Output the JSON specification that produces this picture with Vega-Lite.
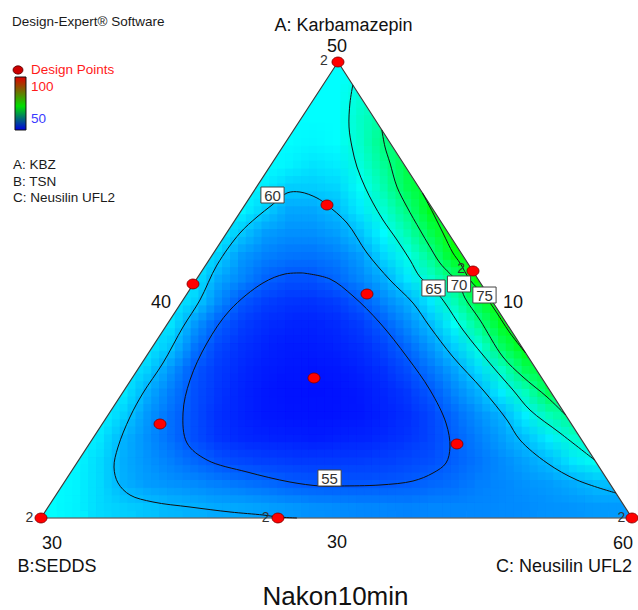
{
"$schema": "https://vega.github.io/schema/vega-lite/v6.json",
"width": 638, "height": 610,
"autosize": {"type": "none"},
"padding": 0,
"background": "white",
"config": {"view": {"stroke": null}, "font": "Liberation Sans"},
"datasets": {
"cells": [
{"u":0.02,"v":0.025,"z":64},{"u":0.06,"v":0.025,"z":63.4},{"u":0.1,"v":0.025,"z":62},{"u":0.14,"v":0.025,"z":61.4},{"u":0.18,"v":0.025,"z":60.8},{"u":0.22,"v":0.025,"z":60.2},{"u":0.26,"v":0.025,"z":59.8},{"u":0.3,"v":0.025,"z":59.4},{"u":0.34,"v":0.025,"z":59.2},{"u":0.38,"v":0.025,"z":58.9},{"u":0.42,"v":0.025,"z":58.4},{"u":0.46,"v":0.025,"z":58},{"u":0.5,"v":0.025,"z":57.8},{"u":0.54,"v":0.025,"z":57.6},{"u":0.58,"v":0.025,"z":57.4},{"u":0.62,"v":0.025,"z":57.3},{"u":0.66,"v":0.025,"z":57.4},{"u":0.7,"v":0.025,"z":57.5},{"u":0.74,"v":0.025,"z":57.6},{"u":0.78,"v":0.025,"z":57.7},{"u":0.82,"v":0.025,"z":57.8},{"u":0.86,"v":0.025,"z":58.1},{"u":0.9,"v":0.025,"z":58.3},{"u":0.94,"v":0.025,"z":58.6},{"u":0.98,"v":0.025,"z":58.6},
{"u":0.02,"v":0.075,"z":64},{"u":0.06,"v":0.075,"z":63.5},{"u":0.1,"v":0.075,"z":62},{"u":0.14,"v":0.075,"z":59.8},{"u":0.18,"v":0.075,"z":58.7},{"u":0.22,"v":0.075,"z":58.2},{"u":0.26,"v":0.075,"z":57.7},{"u":0.3,"v":0.075,"z":57.1},{"u":0.34,"v":0.075,"z":56.5},{"u":0.38,"v":0.075,"z":56},{"u":0.42,"v":0.075,"z":55.3},{"u":0.46,"v":0.075,"z":54.9},{"u":0.5,"v":0.075,"z":54.8},{"u":0.54,"v":0.075,"z":54.8},{"u":0.58,"v":0.075,"z":54.9},{"u":0.62,"v":0.075,"z":55.2},{"u":0.66,"v":0.075,"z":55.7},{"u":0.7,"v":0.075,"z":56.2},{"u":0.74,"v":0.075,"z":57},{"u":0.78,"v":0.075,"z":57.6},{"u":0.82,"v":0.075,"z":58.2},{"u":0.86,"v":0.075,"z":58.7},{"u":0.9,"v":0.075,"z":59.5},{"u":0.94,"v":0.075,"z":60.5},{"u":0.98,"v":0.075,"z":60.5},
{"u":0.06,"v":0.125,"z":63.8},{"u":0.1,"v":0.125,"z":62},{"u":0.14,"v":0.125,"z":59.6},{"u":0.18,"v":0.125,"z":58.3},{"u":0.22,"v":0.125,"z":57.1},{"u":0.26,"v":0.125,"z":55.8},{"u":0.3,"v":0.125,"z":54.6},{"u":0.34,"v":0.125,"z":54},{"u":0.38,"v":0.125,"z":53.6},{"u":0.42,"v":0.125,"z":53.4},{"u":0.46,"v":0.125,"z":53.3},{"u":0.5,"v":0.125,"z":53.3},{"u":0.54,"v":0.125,"z":53.4},{"u":0.58,"v":0.125,"z":53.6},{"u":0.62,"v":0.125,"z":54},{"u":0.66,"v":0.125,"z":54.5},{"u":0.7,"v":0.125,"z":55.4},{"u":0.74,"v":0.125,"z":56.6},{"u":0.78,"v":0.125,"z":57.8},{"u":0.82,"v":0.125,"z":59},{"u":0.86,"v":0.125,"z":60.5},{"u":0.9,"v":0.125,"z":62.8},{"u":0.94,"v":0.125,"z":64.5},
{"u":0.06,"v":0.175,"z":63.8},{"u":0.1,"v":0.175,"z":62.8},{"u":0.14,"v":0.175,"z":59.9},{"u":0.18,"v":0.175,"z":58},{"u":0.22,"v":0.175,"z":56.2},{"u":0.26,"v":0.175,"z":54.4},{"u":0.3,"v":0.175,"z":53},{"u":0.34,"v":0.175,"z":52.3},{"u":0.38,"v":0.175,"z":52},{"u":0.42,"v":0.175,"z":51.8},{"u":0.46,"v":0.175,"z":51.7},{"u":0.5,"v":0.175,"z":51.8},{"u":0.54,"v":0.175,"z":52},{"u":0.58,"v":0.175,"z":52.4},{"u":0.62,"v":0.175,"z":53},{"u":0.66,"v":0.175,"z":54},{"u":0.7,"v":0.175,"z":55.4},{"u":0.74,"v":0.175,"z":57.1},{"u":0.78,"v":0.175,"z":58.8},{"u":0.82,"v":0.175,"z":60.7},{"u":0.86,"v":0.175,"z":63.2},{"u":0.9,"v":0.175,"z":66.1},{"u":0.94,"v":0.175,"z":67},
{"u":0.1,"v":0.225,"z":63.6},{"u":0.14,"v":0.225,"z":61.6},{"u":0.18,"v":0.225,"z":58.4},{"u":0.22,"v":0.225,"z":56.2},{"u":0.26,"v":0.225,"z":54.3},{"u":0.3,"v":0.225,"z":52.8},{"u":0.34,"v":0.225,"z":51.9},{"u":0.38,"v":0.225,"z":51.4},{"u":0.42,"v":0.225,"z":51.2},{"u":0.46,"v":0.225,"z":51.1},{"u":0.5,"v":0.225,"z":51.2},{"u":0.54,"v":0.225,"z":51.4},{"u":0.58,"v":0.225,"z":51.9},{"u":0.62,"v":0.225,"z":52.7},{"u":0.66,"v":0.225,"z":54},{"u":0.7,"v":0.225,"z":56},{"u":0.74,"v":0.225,"z":58},{"u":0.78,"v":0.225,"z":59.9},{"u":0.82,"v":0.225,"z":63.3},{"u":0.86,"v":0.225,"z":67.2},{"u":0.9,"v":0.225,"z":69.5},
{"u":0.14,"v":0.275,"z":63},{"u":0.18,"v":0.275,"z":59.6},{"u":0.22,"v":0.275,"z":56.9},{"u":0.26,"v":0.275,"z":54.5},{"u":0.3,"v":0.275,"z":53},{"u":0.34,"v":0.275,"z":52},{"u":0.38,"v":0.275,"z":51.4},{"u":0.42,"v":0.275,"z":51.1},{"u":0.46,"v":0.275,"z":51},{"u":0.5,"v":0.275,"z":51.1},{"u":0.54,"v":0.275,"z":51.5},{"u":0.58,"v":0.275,"z":52.2},{"u":0.62,"v":0.275,"z":53.2},{"u":0.66,"v":0.275,"z":55},{"u":0.7,"v":0.275,"z":57.4},{"u":0.74,"v":0.275,"z":59.8},{"u":0.78,"v":0.275,"z":63.1},{"u":0.82,"v":0.275,"z":67},{"u":0.86,"v":0.275,"z":72},
{"u":0.14,"v":0.325,"z":63.3},{"u":0.18,"v":0.325,"z":61.6},{"u":0.22,"v":0.325,"z":58.3},{"u":0.26,"v":0.325,"z":55},{"u":0.3,"v":0.325,"z":53.3},{"u":0.34,"v":0.325,"z":52.3},{"u":0.38,"v":0.325,"z":51.6},{"u":0.42,"v":0.325,"z":51.3},{"u":0.46,"v":0.325,"z":51.2},{"u":0.5,"v":0.325,"z":51.4},{"u":0.54,"v":0.325,"z":51.9},{"u":0.58,"v":0.325,"z":52.8},{"u":0.62,"v":0.325,"z":54.3},{"u":0.66,"v":0.325,"z":56.6},{"u":0.7,"v":0.325,"z":59},{"u":0.74,"v":0.325,"z":62.2},{"u":0.78,"v":0.325,"z":66.6},{"u":0.82,"v":0.325,"z":71.7},{"u":0.86,"v":0.325,"z":73.5},
{"u":0.18,"v":0.375,"z":63.1},{"u":0.22,"v":0.375,"z":61},{"u":0.26,"v":0.375,"z":56.6},{"u":0.3,"v":0.375,"z":54},{"u":0.34,"v":0.375,"z":52.8},{"u":0.38,"v":0.375,"z":52},{"u":0.42,"v":0.375,"z":51.6},{"u":0.46,"v":0.375,"z":51.6},{"u":0.5,"v":0.375,"z":51.9},{"u":0.54,"v":0.375,"z":52.6},{"u":0.58,"v":0.375,"z":53.8},{"u":0.62,"v":0.375,"z":55.9},{"u":0.66,"v":0.375,"z":58.5},{"u":0.7,"v":0.375,"z":61.5},{"u":0.74,"v":0.375,"z":65.4},{"u":0.78,"v":0.375,"z":71.2},{"u":0.82,"v":0.375,"z":75.2},
{"u":0.22,"v":0.425,"z":62.6},{"u":0.26,"v":0.425,"z":58.6},{"u":0.3,"v":0.425,"z":55.3},{"u":0.34,"v":0.425,"z":53.5},{"u":0.38,"v":0.425,"z":52.6},{"u":0.42,"v":0.425,"z":52.1},{"u":0.46,"v":0.425,"z":52},{"u":0.5,"v":0.425,"z":52.4},{"u":0.54,"v":0.425,"z":53.4},{"u":0.58,"v":0.425,"z":55.3},{"u":0.62,"v":0.425,"z":57.8},{"u":0.66,"v":0.425,"z":60.5},{"u":0.7,"v":0.425,"z":64.3},{"u":0.74,"v":0.425,"z":69.1},{"u":0.78,"v":0.425,"z":74.5},{"u":0.82,"v":0.425,"z":76.5},
{"u":0.22,"v":0.475,"z":63.3},{"u":0.26,"v":0.475,"z":61.6},{"u":0.3,"v":0.475,"z":57.8},{"u":0.34,"v":0.475,"z":54.9},{"u":0.38,"v":0.475,"z":53.6},{"u":0.42,"v":0.475,"z":53},{"u":0.46,"v":0.475,"z":52.9},{"u":0.5,"v":0.475,"z":53.5},{"u":0.54,"v":0.475,"z":55.1},{"u":0.58,"v":0.475,"z":57.4},{"u":0.62,"v":0.475,"z":59.6},{"u":0.66,"v":0.475,"z":63},{"u":0.7,"v":0.475,"z":67.3},{"u":0.74,"v":0.475,"z":72.6},{"u":0.78,"v":0.475,"z":77},
{"u":0.26,"v":0.525,"z":63},{"u":0.3,"v":0.525,"z":59.4},{"u":0.34,"v":0.525,"z":57.5},{"u":0.38,"v":0.525,"z":55.6},{"u":0.42,"v":0.525,"z":54.6},{"u":0.46,"v":0.525,"z":54.6},{"u":0.5,"v":0.525,"z":55.8},{"u":0.54,"v":0.525,"z":57.6},{"u":0.58,"v":0.525,"z":59.6},{"u":0.62,"v":0.525,"z":62.8},{"u":0.66,"v":0.525,"z":66.4},{"u":0.7,"v":0.525,"z":70.1},{"u":0.74,"v":0.525,"z":76.5},
{"u":0.26,"v":0.575,"z":63.4},{"u":0.3,"v":0.575,"z":61.6},{"u":0.34,"v":0.575,"z":58.5},{"u":0.38,"v":0.575,"z":57.2},{"u":0.42,"v":0.575,"z":56.5},{"u":0.46,"v":0.575,"z":56.4},{"u":0.5,"v":0.575,"z":57},{"u":0.54,"v":0.575,"z":58.7},{"u":0.58,"v":0.575,"z":61.9},{"u":0.62,"v":0.575,"z":65},{"u":0.66,"v":0.575,"z":69.2},{"u":0.7,"v":0.575,"z":74.9},{"u":0.74,"v":0.575,"z":77.5},
{"u":0.3,"v":0.625,"z":63.5},{"u":0.34,"v":0.625,"z":61},{"u":0.38,"v":0.625,"z":58.7},{"u":0.42,"v":0.625,"z":58},{"u":0.46,"v":0.625,"z":58},{"u":0.5,"v":0.625,"z":58.8},{"u":0.54,"v":0.625,"z":60.8},{"u":0.58,"v":0.625,"z":63.9},{"u":0.62,"v":0.625,"z":67.6},{"u":0.66,"v":0.625,"z":72.2},{"u":0.7,"v":0.625,"z":77},
{"u":0.34,"v":0.675,"z":63.6},{"u":0.38,"v":0.675,"z":61.4},{"u":0.42,"v":0.675,"z":59.3},{"u":0.46,"v":0.675,"z":59.3},{"u":0.5,"v":0.675,"z":60.3},{"u":0.54,"v":0.675,"z":63},{"u":0.58,"v":0.675,"z":66},{"u":0.62,"v":0.675,"z":69.8},{"u":0.66,"v":0.675,"z":74.8},
{"u":0.34,"v":0.725,"z":64},{"u":0.38,"v":0.725,"z":63.2},{"u":0.42,"v":0.725,"z":61.4},{"u":0.46,"v":0.725,"z":61.3},{"u":0.5,"v":0.725,"z":61.8},{"u":0.54,"v":0.725,"z":64.2},{"u":0.58,"v":0.725,"z":67.7},{"u":0.62,"v":0.725,"z":72},{"u":0.66,"v":0.725,"z":74.5},
{"u":0.38,"v":0.775,"z":64},{"u":0.42,"v":0.775,"z":63.5},{"u":0.46,"v":0.775,"z":62.6},{"u":0.5,"v":0.775,"z":63.2},{"u":0.54,"v":0.775,"z":65.5},{"u":0.58,"v":0.775,"z":68.9},{"u":0.62,"v":0.775,"z":72.5},
{"u":0.42,"v":0.825,"z":64},{"u":0.46,"v":0.825,"z":63.8},{"u":0.5,"v":0.825,"z":64},{"u":0.54,"v":0.825,"z":66.3},{"u":0.58,"v":0.825,"z":70},{"u":0.62,"v":0.825,"z":71},
{"u":0.42,"v":0.875,"z":64},{"u":0.46,"v":0.875,"z":64},{"u":0.5,"v":0.875,"z":64},{"u":0.54,"v":0.875,"z":66.5},{"u":0.58,"v":0.875,"z":68.5},
{"u":0.46,"v":0.925,"z":64},{"u":0.5,"v":0.925,"z":64},{"u":0.54,"v":0.925,"z":65.8},
{"u":0.46,"v":0.975,"z":64},{"u":0.5,"v":0.975,"z":64},{"u":0.54,"v":0.975,"z":64.5}
],
"masks": [
{"m":"L","i":0,"u":-0.0693,"v":0},{"m":"L","i":1,"u":0,"v":0},{"m":"L","i":2,"u":0.5025,"v":1},{"m":"L","i":3,"u":0.5025,"v":1.08},{"m":"L","i":4,"u":-0.0693,"v":1.08},
{"m":"R","i":0,"u":1,"v":0},{"m":"R","i":1,"u":1.01,"v":0},{"m":"R","i":2,"u":1.01,"v":1.08},{"m":"R","i":3,"u":0.5025,"v":1.08},{"m":"R","i":4,"u":0.5025,"v":1},
{"m":"B","i":0,"u":-0.0693,"v":0},{"m":"B","i":1,"u":1.01,"v":0},{"m":"B","i":2,"u":1.01,"v":-0.05},{"m":"B","i":3,"u":-0.0693,"v":-0.05}
],
"frame": [
{"i":0,"u":0,"v":0},{"i":1,"u":1,"v":0},{"i":2,"u":0.5025,"v":1},{"i":3,"u":0,"v":0}
],
"contours": [
{"c":"55","i":0,"u":0.4433,"v":0.5373},{"c":"55","i":1,"u":0.489,"v":0.5241},{"c":"55","i":2,"u":0.5279,"v":0.4868},{"c":"55","i":3,"u":0.5736,"v":0.4276},{"c":"55","i":4,"u":0.6193,"v":0.3531},{"c":"55","i":5,"u":0.6582,"v":0.2807},{"c":"55","i":6,"u":0.6853,"v":0.2083},{"c":"55","i":7,"u":0.692,"v":0.1557},{"c":"55","i":8,"u":0.6853,"v":0.1206},{"c":"55","i":9,"u":0.6633,"v":0.0987},{"c":"55","i":10,"u":0.6294,"v":0.0811},{"c":"55","i":11,"u":0.5736,"v":0.0724},{"c":"55","i":12,"u":0.5059,"v":0.0702},{"c":"55","i":13,"u":0.4721,"v":0.0702},{"c":"55","i":14,"u":0.4213,"v":0.0789},{"c":"55","i":15,"u":0.3486,"v":0.1009},{"c":"55","i":16,"u":0.2809,"v":0.1272},{"c":"55","i":17,"u":0.247,"v":0.1645},{"c":"55","i":18,"u":0.2403,"v":0.2303},{"c":"55","i":19,"u":0.2521,"v":0.3026},{"c":"55","i":20,"u":0.2809,"v":0.3838},{"c":"55","i":21,"u":0.3198,"v":0.4561},{"c":"55","i":22,"u":0.3756,"v":0.5154},{"c":"55","i":23,"u":0.4129,"v":0.5351},{"c":"55","i":24,"u":0.4433,"v":0.5373},
{"c":"60","i":0,"u":0.4332,"v":0},{"c":"60","i":1,"u":0.401,"v":0.0022},{"c":"60","i":2,"u":0.3756,"v":0.0066},{"c":"60","i":3,"u":0.3198,"v":0.0132},{"c":"60","i":4,"u":0.2521,"v":0.0241},{"c":"60","i":5,"u":0.1895,"v":0.0351},{"c":"60","i":6,"u":0.1506,"v":0.0504},{"c":"60","i":7,"u":0.1303,"v":0.0768},{"c":"60","i":8,"u":0.1235,"v":0.1118},{"c":"60","i":9,"u":0.1303,"v":0.1557},{"c":"60","i":10,"u":0.1506,"v":0.2215},{"c":"60","i":11,"u":0.1726,"v":0.2741},{"c":"60","i":12,"u":0.2064,"v":0.3399},{"c":"60","i":13,"u":0.2403,"v":0.4189},{"c":"60","i":14,"u":0.269,"v":0.4781},{"c":"60","i":15,"u":0.2978,"v":0.5548},{"c":"60","i":16,"u":0.3367,"v":0.625},{"c":"60","i":17,"u":0.3655,"v":0.6601},{"c":"60","i":18,"u":0.3909,"v":0.6864},{"c":"60","i":19,"u":0.4162,"v":0.7127},{"c":"60","i":20,"u":0.4382,"v":0.7149},{"c":"60","i":21,"u":0.467,"v":0.7018},{"c":"60","i":22,"u":0.4839,"v":0.6864},{"c":"60","i":23,"u":0.5178,"v":0.6469},{"c":"60","i":24,"u":0.5516,"v":0.5811},{"c":"60","i":25,"u":0.5905,"v":0.5219},{"c":"60","i":26,"u":0.6294,"v":0.4715},{"c":"60","i":27,"u":0.6582,"v":0.4189},{"c":"60","i":28,"u":0.6971,"v":0.3531},{"c":"60","i":29,"u":0.7479,"v":0.2807},{"c":"60","i":30,"u":0.7885,"v":0.2149},{"c":"60","i":31,"u":0.8105,"v":0.1711},{"c":"60","i":32,"u":0.8562,"v":0.1206},{"c":"60","i":33,"u":0.9069,"v":0.0833},{"c":"60","i":34,"u":0.9727,"v":0.0548},
{"c":"65","i":0,"u":0.5276,"v":0.9496},{"c":"65","i":1,"u":0.5228,"v":0.9101},{"c":"65","i":2,"u":0.5212,"v":0.8575},{"c":"65","i":3,"u":0.5262,"v":0.8136},{"c":"65","i":4,"u":0.5347,"v":0.7697},{"c":"65","i":5,"u":0.5482,"v":0.7259},{"c":"65","i":6,"u":0.5618,"v":0.6908},{"c":"65","i":7,"u":0.5787,"v":0.6535},{"c":"65","i":8,"u":0.6024,"v":0.6096},{"c":"65","i":9,"u":0.6244,"v":0.5658},{"c":"65","i":10,"u":0.6413,"v":0.5285},{"c":"65","i":11,"u":0.6633,"v":0.5044},{"c":"65","i":12,"u":0.6836,"v":0.4715},{"c":"65","i":13,"u":0.714,"v":0.4123},{"c":"65","i":14,"u":0.7648,"v":0.3311},{"c":"65","i":15,"u":0.7986,"v":0.2807},{"c":"65","i":16,"u":0.8274,"v":0.2368},{"c":"65","i":17,"u":0.8782,"v":0.1864},{"c":"65","i":18,"u":0.9367,"v":0.1272},
{"c":"70","i":0,"u":0.5767,"v":0.8509},{"c":"70","i":1,"u":0.5821,"v":0.8136},{"c":"70","i":2,"u":0.5905,"v":0.7785},{"c":"70","i":3,"u":0.6024,"v":0.7259},{"c":"70","i":4,"u":0.6193,"v":0.682},{"c":"70","i":5,"u":0.6413,"v":0.6316},{"c":"70","i":6,"u":0.6582,"v":0.5943},{"c":"70","i":7,"u":0.6751,"v":0.5592},{"c":"70","i":8,"u":0.7073,"v":0.5132},{"c":"70","i":9,"u":0.7174,"v":0.4825},{"c":"70","i":10,"u":0.7428,"v":0.4342},{"c":"70","i":11,"u":0.7817,"v":0.3531},{"c":"70","i":12,"u":0.8156,"v":0.3092},{"c":"70","i":13,"u":0.8562,"v":0.2654},{"c":"70","i":14,"u":0.8876,"v":0.2259},
{"c":"75","i":0,"u":0.6454,"v":0.7127},{"c":"75","i":1,"u":0.6633,"v":0.6689},{"c":"75","i":2,"u":0.6802,"v":0.625},{"c":"75","i":3,"u":0.6971,"v":0.5811},{"c":"75","i":4,"u":0.709,"v":0.5592},{"c":"75","i":5,"u":0.7259,"v":0.5219},{"c":"75","i":6,"u":0.7496,"v":0.489},{"c":"75","i":7,"u":0.7648,"v":0.4627},{"c":"75","i":8,"u":0.7936,"v":0.4057},{"c":"75","i":9,"u":0.82,"v":0.3618}
],
"clabels": [
{"u":0.3917,"v":0.7083,"t":"60"},{"u":0.4882,"v":0.0877,"t":"55"},{"u":0.6641,"v":0.5044,"t":"65"},{"u":0.7073,"v":0.5132,"t":"70"},{"u":0.7504,"v":0.489,"t":"75"}
],
"design": [
{"u":0.5025,"v":1},{"u":0,"v":0},{"u":1,"v":0},{"u":0.731,"v":0.5417},{"u":0.2572,"v":0.5132},{"u":0.401,"v":0},{"u":0.4839,"v":0.6864},{"u":0.5516,"v":0.4912},{"u":0.4619,"v":0.307},{"u":0.2014,"v":0.2061},{"u":0.7039,"v":0.1623}
],
"reps": [
{"u":0.4788,"v":0.9934,"t":"2"},{"u":0.7107,"v":0.5366,"t":"2"},{"u":-0.0195,"v":-0.0081,"t":"2"},{"u":0.3799,"v":-0.0081,"t":"2"},{"u":0.9819,"v":-0.0081,"t":"2"}
],
"axislabels": [
{"u":0.5118,"v":1.068,"t":"A: Karbamazepin"},{"u":0.5008,"v":1.0219,"t":"50"},{"u":0.203,"v":0.4605,"t":"40"},{"u":0.7987,"v":0.4605,"t":"10"},{"u":0.0186,"v":-0.068,"t":"30"},{"u":0.5008,"v":-0.0658,"t":"30"},{"u":0.9848,"v":-0.068,"t":"60"},{"u":0.0271,"v":-0.1184,"t":"B:SEDDS"},{"u":0.885,"v":-0.1184,"t":"C: Neusilin UFL2"}
],
"legendblack": [
{"u":-0.0491,"v":1.0789,"t":"Design-Expert® Software"},{"u":-0.0474,"v":0.7654,"t":"A: KBZ"},{"u":-0.0474,"v":0.7281,"t":"B: TSN"},{"u":-0.0474,"v":0.693,"t":"C: Neusilin UFL2"}
],
"legendred": [
{"u":-0.0169,"v":0.9737,"t":"Design Points"},{"u":-0.0169,"v":0.9364,"t":"100"}
],
"legendblue": [
{"u":-0.0169,"v":0.8662,"t":"50"}
]
},
"encoding": {
"x": {"field": "u", "type": "quantitative", "scale": {"domain": [-0.06937, 1.01015], "nice": false, "zero": false}, "axis": null},
"y": {"field": "v", "type": "quantitative", "scale": {"domain": [-0.20175, 1.13596], "nice": false, "zero": false}, "axis": null}
},
"layer": [
{"data": {"name": "cells"}, "mark": {"type": "point", "shape": "square", "filled": true, "size": 580, "opacity": 1, "strokeWidth": 0},
 "encoding": {"color": {"field": "z", "type": "quantitative", "scale": {"domain": [50, 64, 76, 88, 100], "range": ["#0000ff", "#00ffff", "#00ff00", "#ffff00", "#ff0000"], "interpolate": "rgb"}, "legend": null}}},
{"data": {"name": "cells"}, "mark": {"type": "point", "shape": "square", "filled": true, "size": 580, "opacity": 1, "strokeWidth": 0, "xOffset": -7.9, "yOffset": -7.6},
 "encoding": {"color": {"field": "z", "type": "quantitative", "scale": {"domain": [50, 64, 76, 88, 100], "range": ["#0000ff", "#00ffff", "#00ff00", "#ffff00", "#ff0000"], "interpolate": "rgb"}, "legend": null}}},
{"data": {"name": "cells"}, "mark": {"type": "point", "shape": "M-1,-0.9645H1V0.9645H-1Z", "filled": true, "size": 559, "opacity": 0.5, "strokeWidth": 0, "xOffset": 0, "yOffset": -7.6},
 "encoding": {"color": {"field": "z", "type": "quantitative", "scale": {"domain": [50, 64, 76, 88, 100], "range": ["#0000ff", "#00ffff", "#00ff00", "#ffff00", "#ff0000"], "interpolate": "rgb"}, "legend": null}}},
{"data": {"name": "cells"}, "mark": {"type": "point", "shape": "M-1,-0.9645H1V0.9645H-1Z", "filled": true, "size": 559, "opacity": 0.3333, "strokeWidth": 0, "xOffset": 7.9, "yOffset": -7.6},
 "encoding": {"color": {"field": "z", "type": "quantitative", "scale": {"domain": [50, 64, 76, 88, 100], "range": ["#0000ff", "#00ffff", "#00ff00", "#ffff00", "#ff0000"], "interpolate": "rgb"}, "legend": null}}},
{"data": {"name": "cells"}, "mark": {"type": "point", "shape": "M-1,-0.9645H1V0.9645H-1Z", "filled": true, "size": 559, "opacity": 0.25, "strokeWidth": 0, "xOffset": -7.9, "yOffset": 0},
 "encoding": {"color": {"field": "z", "type": "quantitative", "scale": {"domain": [50, 64, 76, 88, 100], "range": ["#0000ff", "#00ffff", "#00ff00", "#ffff00", "#ff0000"], "interpolate": "rgb"}, "legend": null}}},
{"data": {"name": "cells"}, "mark": {"type": "point", "shape": "M-1,-0.9645H1V0.9645H-1Z", "filled": true, "size": 559, "opacity": 0.2, "strokeWidth": 0, "xOffset": 0, "yOffset": 0},
 "encoding": {"color": {"field": "z", "type": "quantitative", "scale": {"domain": [50, 64, 76, 88, 100], "range": ["#0000ff", "#00ffff", "#00ff00", "#ffff00", "#ff0000"], "interpolate": "rgb"}, "legend": null}}},
{"data": {"name": "cells"}, "mark": {"type": "point", "shape": "M-1,-0.9645H1V0.9645H-1Z", "filled": true, "size": 559, "opacity": 0.16667, "strokeWidth": 0, "xOffset": 7.9, "yOffset": 0},
 "encoding": {"color": {"field": "z", "type": "quantitative", "scale": {"domain": [50, 64, 76, 88, 100], "range": ["#0000ff", "#00ffff", "#00ff00", "#ffff00", "#ff0000"], "interpolate": "rgb"}, "legend": null}}},
{"data": {"name": "cells"}, "mark": {"type": "point", "shape": "M-1,-0.9645H1V0.9645H-1Z", "filled": true, "size": 559, "opacity": 0.14286, "strokeWidth": 0, "xOffset": -7.9, "yOffset": 7.6},
 "encoding": {"color": {"field": "z", "type": "quantitative", "scale": {"domain": [50, 64, 76, 88, 100], "range": ["#0000ff", "#00ffff", "#00ff00", "#ffff00", "#ff0000"], "interpolate": "rgb"}, "legend": null}}},
{"data": {"name": "cells"}, "mark": {"type": "point", "shape": "M-1,-0.9645H1V0.9645H-1Z", "filled": true, "size": 559, "opacity": 0.125, "strokeWidth": 0, "xOffset": 0, "yOffset": 7.6},
 "encoding": {"color": {"field": "z", "type": "quantitative", "scale": {"domain": [50, 64, 76, 88, 100], "range": ["#0000ff", "#00ffff", "#00ff00", "#ffff00", "#ff0000"], "interpolate": "rgb"}, "legend": null}}},
{"data": {"name": "cells"}, "mark": {"type": "point", "shape": "M-1,-0.9645H1V0.9645H-1Z", "filled": true, "size": 559, "opacity": 0.11111, "strokeWidth": 0, "xOffset": 7.9, "yOffset": 7.6},
 "encoding": {"color": {"field": "z", "type": "quantitative", "scale": {"domain": [50, 64, 76, 88, 100], "range": ["#0000ff", "#00ffff", "#00ff00", "#ffff00", "#ff0000"], "interpolate": "rgb"}, "legend": null}}},
{"data": {"name": "masks"}, "mark": {"type": "line", "fill": "white", "stroke": "white", "strokeWidth": 0.5, "interpolate": "linear-closed"},
 "encoding": {"detail": {"field": "m"}, "order": {"field": "i", "type": "quantitative"}}},
{"data": {"name": "frame"}, "mark": {"type": "line", "stroke": "#3a3a3a", "strokeWidth": 1.2},
 "encoding": {"order": {"field": "i", "type": "quantitative"}}},
{"data": {"name": "contours"}, "mark": {"type": "line", "stroke": "#111111", "strokeWidth": 1, "interpolate": "catmull-rom"},
 "encoding": {"detail": {"field": "c"}, "order": {"field": "i", "type": "quantitative"}}},
{"data": {"name": "clabels"}, "mark": {"type": "point", "shape": "M-1.45,-1H1.45V1H-1.45Z", "size": 256, "fill": "white", "stroke": "#444444", "strokeWidth": 1, "opacity": 1, "fillOpacity": 1}},
{"data": {"name": "clabels"}, "mark": {"type": "text", "fontSize": 15, "fill": "#333333", "align": "center", "baseline": "middle", "dy": 1},
 "encoding": {"text": {"field": "t"}}},
{"data": {"name": "design"}, "mark": {"type": "point", "shape": "M-1,0A1,0.83,0,1,0,1,0A1,0.83,0,1,0,-1,0Z", "size": 144, "fill": "#ff0000", "stroke": "#7a0000", "strokeWidth": 0.8, "opacity": 1, "fillOpacity": 1}},
{"data": {"name": "reps"}, "mark": {"type": "text", "fontSize": 14, "fill": "#333333", "align": "center", "baseline": "alphabetic"},
 "encoding": {"text": {"field": "t"}}},
{"data": {"name": "axislabels"}, "mark": {"type": "text", "fontSize": 18, "fill": "#111111", "align": "center", "baseline": "alphabetic"},
 "encoding": {"text": {"field": "t"}}},
{"data": {"values": [{"u": 0.4983, "v": -0.1908, "t": "Nakon10min"}]}, "mark": {"type": "text", "fontSize": 26, "fill": "#111111", "align": "center", "baseline": "alphabetic"},
 "encoding": {"text": {"field": "t"}}},
{"data": {"name": "legendblack"}, "mark": {"type": "text", "fontSize": 13.5, "fill": "#1a1a1a", "align": "left", "baseline": "alphabetic"},
 "encoding": {"text": {"field": "t"}}},
{"data": {"name": "legendred"}, "mark": {"type": "text", "fontSize": 13.5, "fill": "#ff1a1a", "align": "left", "baseline": "alphabetic"},
 "encoding": {"text": {"field": "t"}}},
{"data": {"name": "legendblue"}, "mark": {"type": "text", "fontSize": 13.5, "fill": "#3a3aff", "align": "left", "baseline": "alphabetic"},
 "encoding": {"text": {"field": "t"}}},
{"data": {"values": [{"u": -0.0389, "v": 0.9825}]}, "mark": {"type": "point", "shape": "M-1,0A1,0.83,0,1,0,1,0A1,0.83,0,1,0,-1,0Z", "size": 100, "fill": "#cc0000", "stroke": "#550000", "strokeWidth": 0.8, "opacity": 1, "fillOpacity": 1}},
{"data": {"values": [{"u": -0.044, "u2": -0.0254, "v": 0.8509, "v2": 0.9671}]},
 "mark": {"type": "rect", "stroke": "#111111", "strokeWidth": 1, "fill": {"gradient": "linear", "x1": 0, "y1": 0, "x2": 0, "y2": 1, "stops": [{"offset": 0, "color": "#e00000"}, {"offset": 0.55, "color": "#00e000"}, {"offset": 1, "color": "#0000e0"}]}},
 "encoding": {"x2": {"field": "u2"}, "y2": {"field": "v2"}}}
]
}
